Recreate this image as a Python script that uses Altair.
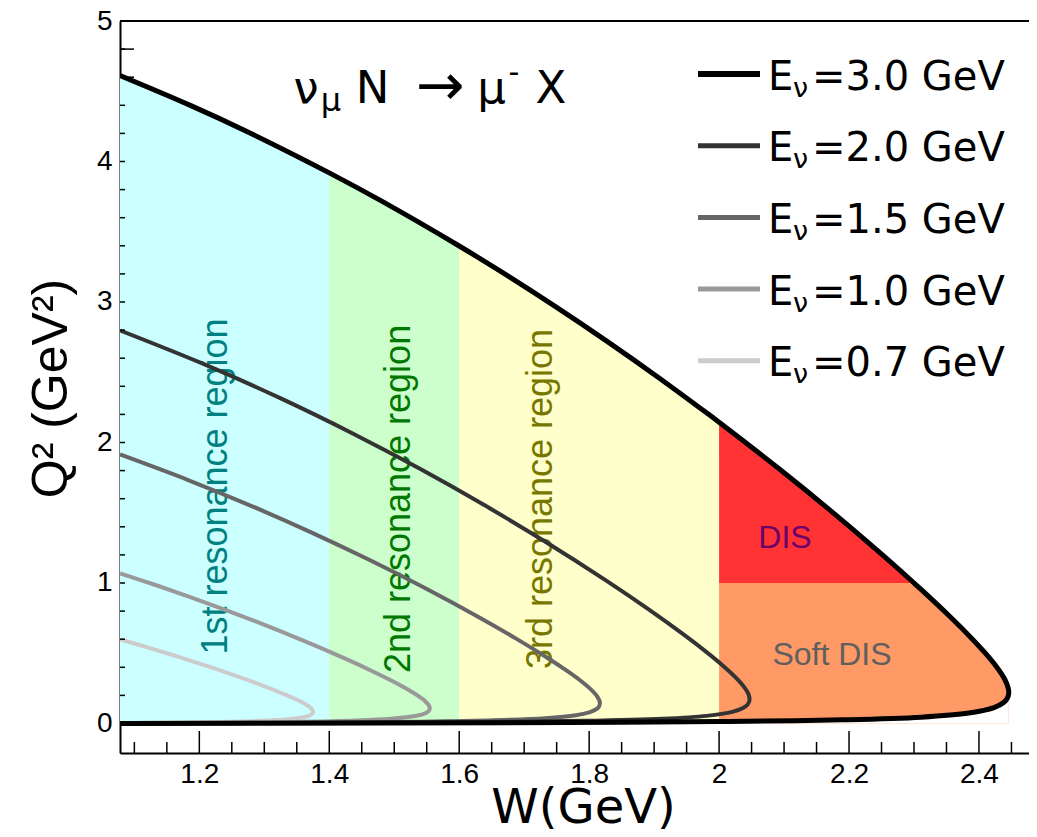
import altair as alt
import pandas as pd

# ---------------- data ----------------
energy_labels = ["3.0", "2.0", "1.5", "1.0", "0.7"]

# kinematic boundary for each neutrino energy: upper branch (left edge -> tip), then lower branch (tip -> left edge)
w_30_up = [1.0779, 1.1870, 1.2732, 1.4000, 1.4794, 1.6000, 1.6614, 1.7459, 1.8271, 1.9055, 1.9817, 2.0000,
           2.0937, 2.1683, 2.2457, 2.3000, 2.3117, 2.3532, 2.3851]
q2_30_up = [4.6118, 4.3976, 4.2136, 3.9192, 3.7211, 3.3986, 3.2245, 2.9741, 2.7217, 2.4665, 2.2076, 2.1440,
            1.8077, 1.5274, 1.2229, 1.0000, 0.9507, 0.7699, 0.6230]
w_30_lo = [2.4091, 2.4264, 2.4396, 2.4451, 2.4457, 2.4438, 2.4385, 2.4231, 2.3844, 2.3107, 2.1898, 2.0140,
           2.0000, 1.7677, 1.4801, 1.0776]
q2_30_lo = [0.5038, 0.4070, 0.3148, 0.2503, 0.2099, 0.1815, 0.1511, 0.1132, 0.0742, 0.0449, 0.0261, 0.0146,
            0.0140, 0.0074, 0.0034, 0.0006]

w_20_up = [1.0783, 1.2063, 1.3262, 1.4368, 1.5403, 1.6385, 1.7333, 1.8269, 1.8916, 1.9462, 1.9802, 2.0059]
q2_20_up = [2.7972, 2.5593, 2.3119, 2.0626, 1.8107, 1.5547, 1.2916, 1.0146, 0.8116, 0.6301, 0.5096, 0.4116]
w_20_lo = [2.0246, 2.0372, 2.0454, 2.0467, 2.0441, 2.0368, 2.0204, 1.9806, 1.9134, 1.7909, 1.6001, 1.3472, 1.0784]
q2_20_lo = [0.3321, 0.2676, 0.2061, 0.1631, 0.1362, 0.1097, 0.0826, 0.0542, 0.0340, 0.0187, 0.0092, 0.0037, 0.0009]

w_15_up = [1.0779, 1.1837, 1.2824, 1.3747, 1.4622, 1.5465, 1.6296, 1.6869, 1.7349, 1.7644, 1.7864]
q2_15_up = [1.9148, 1.7311, 1.5442, 1.3552, 1.1632, 0.9659, 0.7581, 0.6059, 0.4698, 0.3794, 0.3059]
w_15_lo = [1.8018, 1.8115, 1.8165, 1.8150, 1.8102, 1.8001, 1.7796, 1.7322, 1.6536, 1.5391, 1.3465, 1.0782]
q2_15_lo = [0.2463, 0.1979, 0.1518, 0.1195, 0.0994, 0.0795, 0.0592, 0.0379, 0.0227, 0.0130, 0.0056, 0.0013]

w_10_up = [1.0781, 1.1337, 1.1861, 1.2367, 1.2858, 1.3338, 1.3812, 1.4290, 1.4663, 1.4939, 1.5183, 1.5357]
q2_10_up = [1.0687, 0.9839, 0.8998, 0.8147, 0.7284, 0.6402, 0.5491, 0.4524, 0.3723, 0.3095, 0.2492, 0.2002]
w_10_lo = [1.5472, 1.5534, 1.5547, 1.5521, 1.5454, 1.5272, 1.4951, 1.4418, 1.3444, 1.1994, 1.0778]
q2_10_lo = [0.1605, 0.1282, 0.1054, 0.0852, 0.0686, 0.0493, 0.0337, 0.0215, 0.0114, 0.0049, 0.0020]

w_07_up = [1.0783, 1.1239, 1.1669, 1.2091, 1.2509, 1.2827, 1.3162, 1.3424, 1.3492, 1.3634]
q2_07_up = [0.5986, 0.5369, 0.4759, 0.4132, 0.3478, 0.2954, 0.2364, 0.1855, 0.1711, 0.1368]
w_07_lo = [1.3720, 1.3738, 1.3753, 1.3713, 1.3598, 1.3370, 1.2917, 1.2129, 1.1185, 1.0778]
q2_07_lo = [0.1090, 0.1002, 0.0773, 0.0603, 0.0447, 0.0311, 0.0190, 0.0098, 0.0047, 0.0031]

resonance_edges_w = [1.0779, 1.4, 1.6, 2.0]
dis_w_min = 2.0
dis_q2_split = 1.0

region_texts = ["1st resonance region", "2nd resonance region", "3rd resonance region"]
region_text_w = [1.2431, 1.5246, 1.7426]
region_text_q2 = [1.687, 1.598, 1.598]

dis_texts = ["DIS", "Soft DIS"]
dis_text_w = [2.1015, 2.1738]
dis_text_q2 = [1.249, 0.416]

x_major_ticks = [1.2, 1.4, 1.6, 1.8, 2.0, 2.2, 2.4]
x_minor_ticks = [1.1, 1.15, 1.25, 1.3, 1.35, 1.45, 1.5, 1.55, 1.65, 1.7, 1.75, 1.85, 1.9, 1.95,
                 2.05, 2.1, 2.15, 2.25, 2.3, 2.35, 2.45]
y_label_values = [0, 1, 2, 3, 4, 5]
y_tick_values = [0.0, 0.2, 0.4, 0.6, 0.8, 1.0, 1.2, 1.4, 1.6, 1.8, 2.0, 2.2, 2.4, 2.6, 2.8,
                 3.0, 3.2, 3.4, 3.6, 3.8, 4.0, 4.2, 4.4, 4.6, 4.8]

title_parts = ["ν", "μ", "N", "→", "μ", "-", "X"]
x_title = "W(GeV)"
y_title = "Q² (GeV²)"

# ---------------- styles / layout ----------------
PLOT_W, PLOT_H = 909, 732
X_DOMAIN = [1.0779, 2.477]
Y_DOMAIN = [-0.21, 5.0]
curve_colors = ["#000000", "#333333", "#666666", "#999999", "#cccccc"]
curve_widths = [5, 4, 4, 4, 4]
band_colors = ["#ccffff", "#ccffcc", "#ffffcc"]
dis_color = "#ff3333"
soft_dis_color = "#ff9966"
region_text_colors = ["#008080", "#007700", "#777700"]
dis_text_colors = ["#6b006b", "#5f5f5f"]
SANS = "Liberation Sans"
WIDE = "DejaVu Sans"

xs = alt.Scale(domain=X_DOMAIN, nice=False, zero=False)
ys = alt.Scale(domain=Y_DOMAIN, nice=False, zero=False)

x_axis = alt.Axis(values=x_major_ticks, format=".1~f", labelFont=SANS, labelFontSize=28, labelColor="black",
                  labelPadding=7, ticks=False, tickSize=0, domain=True, domainColor="black", domainWidth=2,
                  grid=False, labelFlush=False, labelOverlap=False,
                  title=x_title, titleFont=WIDE, titleFontSize=48, titleFontWeight="normal", titleColor="black",
                  titleX=463, titleY=69, titleAlign="center", titleBaseline="alphabetic")
y_axis = alt.Axis(values=y_label_values, format="d", labelFont=SANS, labelFontSize=28, labelColor="black",
                  labelPadding=8, ticks=False, tickSize=0, domain=True, domainColor="black", domainWidth=2,
                  grid=False, labelFlush=False, labelOverlap=False,
                  title=y_title, titleFont=SANS, titleFontSize=50, titleFontWeight="normal", titleColor="black",
                  titleAngle=270, titleX=-54, titleY=367, titleAlign="center", titleBaseline="alphabetic")


def X(field="W:Q"):
    return alt.X(field, scale=xs, axis=x_axis)


def Y(field="Q2:Q"):
    return alt.Y(field, scale=ys, axis=y_axis)


layers = []

# ---- long y ticks, drawn first so that the filled regions cover them ----
layers.append(
    alt.Chart(pd.DataFrame({"Q2": y_tick_values})).mark_rule(color="black", strokeWidth=1.5).encode(
        y=Y(), x=alt.value(0), x2=alt.value(14))
)

# ---- resonance bands under the 3 GeV boundary ----
up3 = pd.DataFrame({"W": w_30_up, "Q2": q2_30_up})
for i, (lo, hi) in enumerate(zip(resonance_edges_w[:-1], resonance_edges_w[1:])):
    d = up3[(up3.W >= lo - 1e-6) & (up3.W <= hi + 1e-6)].assign(base=0.0)
    layers.append(
        alt.Chart(d).mark_area(color=band_colors[i], opacity=1, clip=True).encode(
            x=X(), y=Y(), y2="base:Q")
    )

# ---- DIS region (W > 2, Q2 > 1) ----
d_dis = up3[(up3.W >= dis_w_min - 1e-6) & (up3.Q2 >= dis_q2_split - 1e-6)].assign(base=dis_q2_split)
layers.append(
    alt.Chart(d_dis).mark_area(color=dis_color, opacity=1, clip=True).encode(x=X(), y=Y(), y2="base:Q")
)

# ---- soft DIS region (W > 2, Q2 < 1): fill under the outer part of the 3 GeV curve,
#      then blank out the part that lies below its lower branch ----
full3 = pd.DataFrame({"W": w_30_up + w_30_lo, "Q2": q2_30_up + q2_30_lo})
full3["idx"] = range(len(full3))
tip = int(full3["W"].idxmax())
soft_top = pd.concat([
    pd.DataFrame({"W": [dis_w_min], "Q2": [dis_q2_split], "idx": [-1]}),
    full3[(full3.idx <= tip) & (full3.Q2 <= dis_q2_split + 1e-6)],
]).assign(base=0.0)
soft_bottom = full3[(full3.idx >= tip) & (full3.W >= dis_w_min - 1e-6)].assign(base=0.0)
layers.append(
    alt.Chart(soft_top).mark_area(color=soft_dis_color, opacity=1, clip=True).encode(
        x=X(), y=Y(), y2="base:Q")
)
layers.append(
    alt.Chart(soft_bottom).mark_area(color="white", opacity=1, clip=True).encode(
        x=X(), y=Y(), y2="base:Q")
)

# ---- region labels ----
for t, w, q, c in zip(region_texts, region_text_w, region_text_q2, region_text_colors):
    layers.append(
        alt.Chart(pd.DataFrame({"W": [w], "Q2": [q], "t": [t]})).mark_text(
            angle=270, font=SANS, fontSize=36, align="center", baseline="alphabetic", color=c
        ).encode(x=X(), y=Y(), text="t:N")
    )
for t, w, q, c in zip(dis_texts, dis_text_w, dis_text_q2, dis_text_colors):
    layers.append(
        alt.Chart(pd.DataFrame({"W": [w], "Q2": [q], "t": [t]})).mark_text(
            font=SANS, fontSize=32, align="center", baseline="alphabetic", color=c
        ).encode(x=X(), y=Y(), text="t:N")
    )

# ---- kinematic boundary curves ----
curve_src = {
    "3.0": (w_30_up + w_30_lo, q2_30_up + q2_30_lo),
    "2.0": (w_20_up + w_20_lo, q2_20_up + q2_20_lo),
    "1.5": (w_15_up + w_15_lo, q2_15_up + q2_15_lo),
    "1.0": (w_10_up + w_10_lo, q2_10_up + q2_10_lo),
    "0.7": (w_07_up + w_07_lo, q2_07_up + q2_07_lo),
}
for k in reversed(range(len(energy_labels))):
    e = energy_labels[k]
    ws, qs = curve_src[e]
    d = pd.DataFrame({"W": ws, "Q2": qs, "idx": range(len(ws))})
    layers.append(
        alt.Chart(d).mark_line(color=curve_colors[k], strokeWidth=curve_widths[k],
                               interpolate="catmull-rom", clip=True).encode(
            x=X(), y=Y(), order="idx:Q")
    )

# ---- frame and visible tick stubs ----
layers.append(
    alt.Chart(pd.DataFrame({"Q2": [Y_DOMAIN[1]]})).mark_rule(color="black", strokeWidth=2).encode(y=Y())
)
layers.append(
    alt.Chart(pd.DataFrame({"W": x_major_ticks})).mark_rule(color="black", strokeWidth=1.5).encode(
        x=X(), y=alt.value(PLOT_H), y2=alt.value(PLOT_H - 22))
)
layers.append(
    alt.Chart(pd.DataFrame({"W": x_minor_ticks})).mark_rule(color="black", strokeWidth=1.5).encode(
        x=X(), y=alt.value(PLOT_H), y2=alt.value(PLOT_H - 11))
)
layers.append(
    alt.Chart(pd.DataFrame({"Q2": y_tick_values})).mark_rule(color="black", strokeWidth=1.5).encode(
        y=Y(), x=alt.value(0), x2=alt.value(5))
)

# ---- legend (drawn by hand to get the subscript) ----
ROW0, ROW_STEP = 53, 71.7
for i, e in enumerate(energy_labels):
    ly = ROW0 + ROW_STEP * i
    layers.append(
        alt.Chart(pd.DataFrame({"E": [e]})).mark_rule(color=curve_colors[i], strokeWidth=6 if i == 0 else 5).encode(
            x=alt.value(578), x2=alt.value(640), y=alt.value(ly))
    )
leg = pd.DataFrame({"E": energy_labels})
leg["rest"] = "=" + leg["E"] + " GeV"
leg["ty"] = [ROW0 + ROW_STEP * i + 15.5 for i in range(len(leg))]
leg["sy"] = [ROW0 + ROW_STEP * i + 22.5 for i in range(len(leg))]
layers.append(
    alt.Chart(leg).mark_text(font=WIDE, fontSize=40, align="left", baseline="alphabetic", color="black").encode(
        x=alt.value(648), y=alt.Y("ty:Q", scale=None, axis=None), text=alt.value("E"))
)
layers.append(
    alt.Chart(leg).mark_text(font=WIDE, fontSize=27, align="left", baseline="alphabetic", color="black").encode(
        x=alt.value(673), y=alt.Y("sy:Q", scale=None, axis=None), text=alt.value("ν"))
)
layers.append(
    alt.Chart(leg).mark_text(font=WIDE, fontSize=40, align="left", baseline="alphabetic", color="black").encode(
        x=alt.value(692), y=alt.Y("ty:Q", scale=None, axis=None), text="rest:N")
)

# ---- reaction label ----
title_df = pd.DataFrame({
    "t": title_parts,
    "px": [186, 211, 252.5, 320, 371.5, 394, 431],
    "py": [82, 90, 82, 84, 82, 61, 82],
    "fs": [45, 32, 45, 58, 45, 30, 45],
})
layers.append(
    alt.Chart(title_df).mark_text(font=WIDE, align="center", baseline="alphabetic", color="black").encode(
        x=alt.X("px:Q", scale=None, axis=None), y=alt.Y("py:Q", scale=None, axis=None),
        size=alt.Size("fs:Q", scale=None, legend=None), text="t:N")
)

chart = alt.layer(*layers).properties(
    width=PLOT_W, height=PLOT_H,
    padding={"left": 112, "top": 13, "right": 0, "bottom": 76},
    autosize=alt.AutoSizeParams(type="none"),
    background="white",
).configure_view(stroke=None)

chart.save("out.html", embed_options={"renderer": "svg", "actions": False})
